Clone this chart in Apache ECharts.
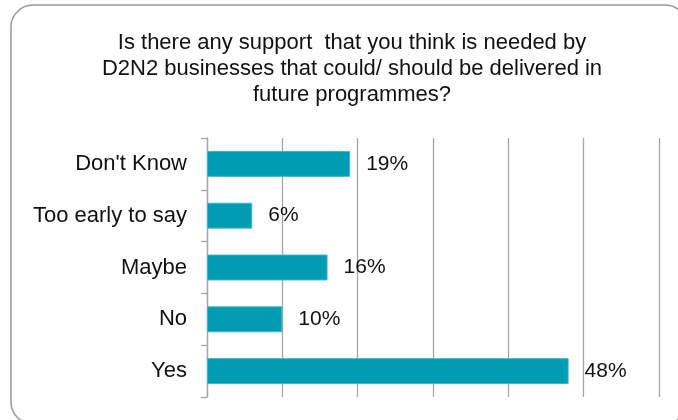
<!DOCTYPE html>
<html>
<head>
<meta charset="utf-8">
<script src="https://cdn.jsdelivr.net/npm/echarts@6/dist/echarts.min.js"></script>
<style>
  html, body { margin: 0; padding: 0; background: #ffffff; }
  #chart { width: 678px; height: 420px; }
</style>
</head>
<body>
<div id="chart"></div>
<script>
// Survey responses, top to bottom
const categories = ["Don't Know", 'Too early to say', 'Maybe', 'No', 'Yes'];
const shares = [19, 6, 16, 10, 48];
const titleText = 'Is there any support  that you think is needed by\nD2N2 businesses that could/ should be delivered in\nfuture programmes?';

const FONT = "'Liberation Sans', Arial, Helvetica, sans-serif";
const chart = echarts.init(document.getElementById('chart'), null, { renderer: 'canvas' });

chart.setOption({
  animation: false,
  backgroundColor: '#ffffff',
  graphic: [{
    type: 'rect',
    shape: { x: 11, y: 5, width: 676, height: 419, r: 22 },
    style: { fill: 'none', stroke: '#9a9a9a', lineWidth: 1.5 },
    z: -1
  }],
  title: {
    text: titleText,
    left: 347,
    textAlign: 'center',
    top: 25,
    textStyle: {
      fontFamily: FONT,
      fontSize: 22,
      fontWeight: 'normal',
      color: '#111111',
      lineHeight: 26
    }
  },
  grid: { left: 207, right: 19, top: 138, bottom: 23, containLabel: false },
  xAxis: {
    type: 'value',
    min: 0,
    max: 60,
    interval: 10,
    axisLine: { show: false },
    axisTick: { show: false },
    axisLabel: { show: false },
    splitLine: { show: true, lineStyle: { color: '#a6a6a6', width: 1.3 } }
  },
  yAxis: {
    type: 'category',
    data: categories,
    inverse: true,
    axisLine: { show: true, lineStyle: { color: '#a6a6a6', width: 1.3 } },
    axisTick: { show: true, length: 6, lineStyle: { color: '#a6a6a6', width: 1.3 } },
    axisLabel: {
      margin: 20,
      fontFamily: FONT,
      fontSize: 22,
      color: '#111111'
    }
  },
  series: [{
    type: 'bar',
    data: shares,
    barCategoryGap: '50%',
    itemStyle: { color: '#019cb4', borderColor: '#3db3c5', borderWidth: 1 },
    label: {
      show: true,
      position: 'right',
      distance: 16,
      formatter: p => p.value + '%',
      fontFamily: FONT,
      fontSize: 21,
      color: '#111111'
    }
  }]
});
</script>
</body>
</html>
